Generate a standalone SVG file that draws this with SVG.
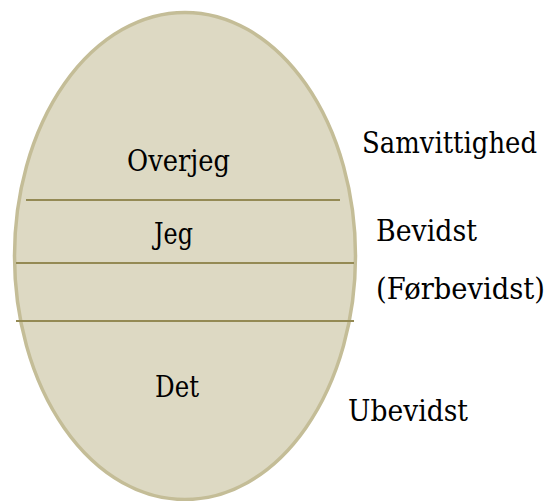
<svg xmlns="http://www.w3.org/2000/svg" width="560" height="501" viewBox="0 0 560 501">
<style>
.egg{fill:#ddd9c3;stroke:#c4bd97;stroke-width:3.5}
.div{stroke:#948a54;stroke-width:2;fill:none}
.t{font-family:"DejaVu Serif","Liberation Serif",serif;font-size:29px;fill:#000}
</style>
<rect width="560" height="501" fill="#ffffff"/>
<g id="egg">
<ellipse class="egg" cx="185" cy="256" rx="170.5" ry="243.5"/>
</g>
<g id="connectors">
<line class="div" x1="26" y1="200" x2="340" y2="200"/>
<line class="div" x1="16" y1="263" x2="354" y2="263"/>
<line class="div" x1="16" y1="321" x2="354" y2="321"/>
</g>
<g id="overjeg"><text class="t" x="127" y="171" textLength="103" lengthAdjust="spacingAndGlyphs">Overjeg</text></g>
<g id="jeg"><text class="t" x="154" y="244" textLength="39" lengthAdjust="spacingAndGlyphs">Jeg</text></g>
<g id="det"><text class="t" x="155" y="397" textLength="44" lengthAdjust="spacingAndGlyphs">Det</text></g>
<g id="samvittighed"><text class="t" x="362" y="153" textLength="175" lengthAdjust="spacingAndGlyphs">Samvittighed</text></g>
<g id="bevidst"><text class="t" x="376" y="241" textLength="101" lengthAdjust="spacingAndGlyphs">Bevidst</text></g>
<g id="forbevidst"><text class="t" x="376" y="299" textLength="169" lengthAdjust="spacingAndGlyphs">(Førbevidst)</text></g>
<g id="ubevidst"><text class="t" x="348" y="421" textLength="120" lengthAdjust="spacingAndGlyphs">Ubevidst</text></g>
</svg>
